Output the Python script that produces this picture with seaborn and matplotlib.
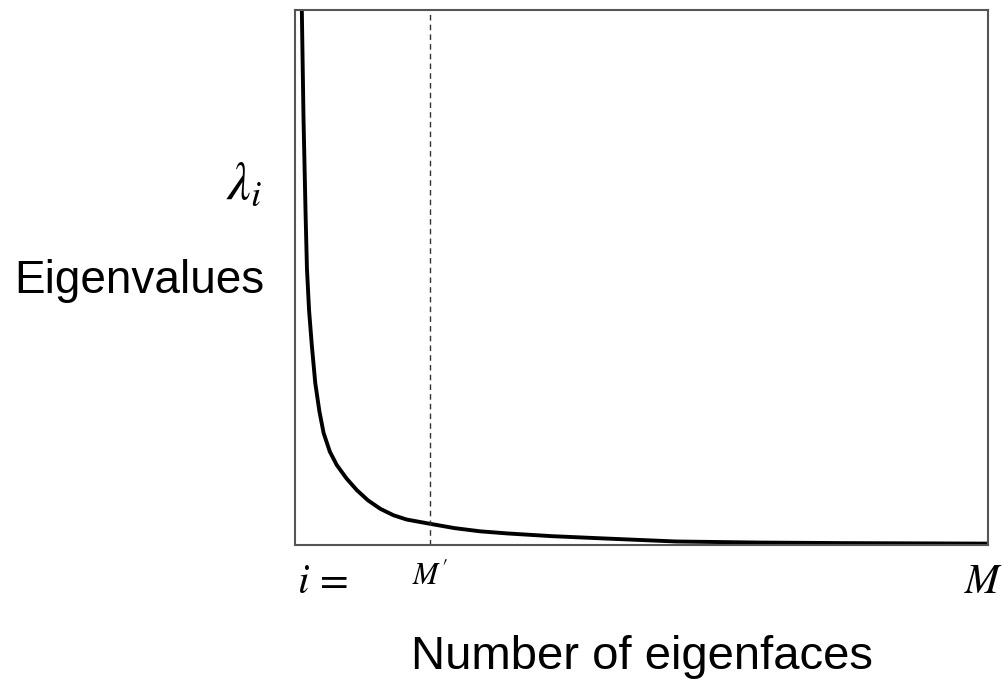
#!/usr/bin/env python3
import pandas as pd
import seaborn as sns
import matplotlib as mpl
import matplotlib.pyplot as plt

sns.set_theme(style="white")
mpl.rcParams["font.family"] = ["Liberation Sans", "DejaVu Sans"]
mpl.rcParams["mathtext.fontset"] = "stix"
mpl.rcParams["text.color"] = "black"
mpl.rcParams["axes.labelcolor"] = "black"
mpl.rcParams["xtick.color"] = "black"

# eigenvalue spectrum (index in % of M, value in % of axis)
index = [0.96, 1.2, 1.5, 1.7, 2.0, 2.4, 2.9, 3.5, 4.1, 5.0, 6.0, 7.4, 8.9,
         10.5, 12.3, 14.2, 16.1, 19.5, 23.0, 26.7, 30.7, 37.0, 44.0, 55.0,
         67.0, 79.0, 90.0, 100.0]
eigenvalue = [100, 80, 62, 51.7, 44, 37.4, 30.3, 25.0, 21.0, 17.5, 15.0, 12.5,
              10.3, 8.4, 6.8, 5.6, 4.8, 4.0, 3.2, 2.6, 2.2, 1.7, 1.3, 0.7,
              0.5, 0.4, 0.35, 0.3]
m_prime = 19.5
tick_pos = [0.3, m_prime, 99.4]
tick_labels = ["$i\\,=$", "$M'$", "$M$"]

df = pd.DataFrame({"i": index, "lam": eigenvalue})

fig = plt.figure(figsize=(10.04, 6.79), dpi=100)
ax = fig.add_axes([0.294, 0.197, 0.690, 0.788])

sns.lineplot(ax=ax, data=df, x="i", y="lam", color="black", linewidth=2.8)
ax.axvline(m_prime, color="#333333", linestyle=(0, (4, 3)), linewidth=1.0)

ax.set_xlim(0, 100)
ax.set_ylim(0, 100)
ax.set_yticks([])
ax.set_xticks(tick_pos)
labels = ax.set_xticklabels(tick_labels)
labels[0].set_fontsize(30)
labels[0].set_horizontalalignment("left")
labels[1].set_fontsize(22)
labels[2].set_fontsize(30)
ax.tick_params(axis="x", length=0, pad=12)
for s in ax.spines.values():
    s.set_color("#555555")
    s.set_linewidth(1.5)

ax.set_xlabel("Number of eigenfaces", fontsize=34, labelpad=24)
ax.set_ylabel(None)

fig.text(0.243, 0.728, "$\\lambda_i$", fontsize=38, ha="center", va="center")
fig.text(0.139, 0.586, "Eigenvalues", fontsize=33, ha="center", va="center")

plt.savefig("out.png", dpi=100)
